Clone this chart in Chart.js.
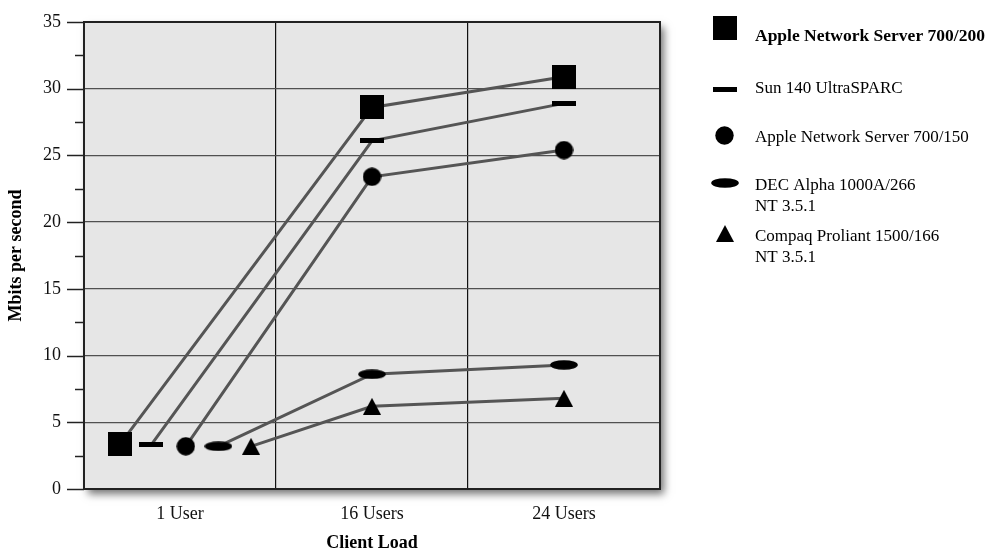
<!DOCTYPE html>
<html>
<head>
<meta charset="utf-8">
<script src="https://cdn.jsdelivr.net/npm/chart.js@4/dist/chart.umd.min.js"></script>
<style>
  html, body { margin: 0; background: #fff; }
</style>
</head>
<body>
<canvas id="chart" width="992" height="552"></canvas>
<script>
/* Server throughput by client load — redrawn with Chart.js */

const categories = ['1 User', '16 Users', '24 Users'];
const seriesNames = [
  ['Apple Network Server 700/200'],
  ['Sun 140 UltraSPARC'],
  ['Apple Network Server 700/150'],
  ['DEC Alpha 1000A/266', 'NT 3.5.1'],
  ['Compaq Proliant 1500/166', 'NT 3.5.1'],
];
// at "1 User" the markers are spread out across the band, later loads sit at band centre
const oneUserX = [0.19, 0.35, 0.53, 0.70, 0.87];
const laterX = [1.5, 2.5];

const apple200 = [3.4, 28.6, 30.9];
const sun140 = [3.3, 26.1, 28.9];
const apple150 = [3.2, 23.4, 25.4];
const decAlpha = [3.2, 8.6, 9.3];
const compaq = [3.2, 6.2, 6.8];
const seriesValues = [apple200, sun140, apple150, decAlpha, compaq];

const yMax = 35;
const SERIF = '"Liberation Serif", "DejaVu Serif", serif';

function makeMarker(shape) {
  const c = document.createElement('canvas');
  const g = c.getContext('2d');
  if (shape === 'square') { c.width = 24; c.height = 24; g.fillStyle = '#000'; g.fillRect(0, 0, 24, 24); }
  if (shape === 'dash') { c.width = 24; c.height = 5; g.fillStyle = '#000'; g.fillRect(0, 0, 24, 5); }
  if (shape === 'circle') {
    c.width = 19; c.height = 19; g.fillStyle = '#000';
    g.beginPath(); g.arc(9.5, 9.5, 9.2, 0, Math.PI * 2); g.fill();
  }
  if (shape === 'ellipse') {
    c.width = 28; c.height = 10; g.fillStyle = '#000';
    g.beginPath(); g.ellipse(14, 5, 13.8, 4.8, 0, 0, Math.PI * 2); g.fill();
  }
  if (shape === 'triangle') {
    c.width = 18; c.height = 17; g.fillStyle = '#000';
    g.beginPath(); g.moveTo(9, 0); g.lineTo(18, 17); g.lineTo(0, 17); g.closePath(); g.fill();
  }
  return c;
}
const markers = ['square', 'dash', 'circle', 'ellipse', 'triangle'].map(makeMarker);

const datasets = seriesValues.map((vals, i) => ({
  label: seriesNames[i].join(' '),
  data: vals.map((v, k) => ({ x: k === 0 ? oneUserX[i] : laterX[k - 1], y: v })),
  borderColor: '#555',
  borderWidth: 3,
  pointStyle: markers[i],
  pointRadius: 5,
  pointHoverRadius: 5,
  fill: false,
  tension: 0,
}));

const framePlugin = {
  id: 'frame',
  beforeDraw(chart) {
    const { ctx, chartArea: a } = chart;
    ctx.save();
    ctx.shadowColor = 'rgba(0,0,0,0.55)';
    ctx.shadowBlur = 8;
    ctx.shadowOffsetX = 4;
    ctx.shadowOffsetY = 5;
    ctx.fillStyle = '#e6e6e6';
    ctx.fillRect(a.left, a.top, a.right - a.left, a.bottom - a.top);
    ctx.restore();
  },
  afterDraw(chart) {
    const { ctx, chartArea: a } = chart;
    const y = chart.scales.y;
    ctx.save();
    ctx.strokeStyle = '#222';
    ctx.lineWidth = 2;
    ctx.strokeRect(a.left, a.top, a.right - a.left, a.bottom - a.top);
    // major and minor tick marks on the value axis
    ctx.lineWidth = 1.5;
    for (let v = 0; v <= yMax; v += 2.5) {
      const py = Math.round(y.getPixelForValue(v)) + 0.5;
      const len = v % 5 === 0 ? 17 : 9;
      ctx.beginPath();
      ctx.moveTo(a.left - len, py);
      ctx.lineTo(a.left, py);
      ctx.stroke();
    }
    // legend on the right
    const iconX = 724.5;
    const textX = 755;
    const iconY = [27.5, 89, 135, 182.5, 233];
    const baseY = [41, 93, 141.5, 189.5, 240.5];
    ctx.fillStyle = '#000';
    ctx.textAlign = 'left';
    ctx.textBaseline = 'alphabetic';
    seriesNames.forEach((lines, i) => {
      const m = markers[i];
      ctx.drawImage(m, Math.round(iconX - m.width / 2), Math.round(iconY[i] - m.height / 2));
      ctx.font = (i === 0 ? 'bold 17.5px ' : '17px ') + SERIF;
      lines.forEach((t, j) => ctx.fillText(t, textX, baseY[i] + j * 21.5));
    });
    ctx.restore();
  },
};

new Chart(document.getElementById('chart'), {
  type: 'line',
  data: { datasets },
  options: {
    responsive: false,
    animation: false,
    events: [],
    layout: { padding: { top: 22, right: 332, left: 0, bottom: 0 } },
    plugins: { legend: { display: false }, tooltip: { enabled: false } },
    scales: {
      x: {
        type: 'linear',
        min: 0,
        max: categories.length,
        afterBuildTicks: (s) => { s.ticks = categories.map((c, i) => ({ value: i + 0.5 })); },
        afterFit: (s) => { s.height = 63; },
        grid: {
          offset: true,
          drawTicks: false,
          lineWidth: 1.2,
          color: (c) => '#111',
        },
        border: { display: false },
        ticks: {
          padding: 14,
          color: '#111',
          font: { family: SERIF, size: 18 },
          callback: (v) => categories[Math.floor(v)],
        },
        title: {
          display: true,
          text: 'Client Load',
          color: '#000',
          font: { family: SERIF, size: 18, weight: 'bold', lineHeight: 1 },
          padding: { top: 0, bottom: 0 },
        },
      },
      y: {
        min: 0,
        max: yMax,
        afterFit: (s) => { s.width = 84; s.paddingTop = 0; s.paddingBottom = 0; },
        grid: {
          drawTicks: false,
          lineWidth: 1.3,
          color: (c) => (c.tick && c.tick.value > 0 && c.tick.value < yMax ? '#505050' : 'rgba(0,0,0,0)'),
        },
        border: { display: false },
        ticks: {
          stepSize: 5,
          padding: 23,
          color: '#111',
          font: { family: SERIF, size: 18 },
        },
        title: {
          display: true,
          text: 'Mbits per second',
          color: '#000',
          font: { family: SERIF, size: 18, weight: 'bold', lineHeight: 1 },
          padding: { top: 7, bottom: 0 },
        },
      },
    },
  },
  plugins: [framePlugin],
});
</script>
</body>
</html>
